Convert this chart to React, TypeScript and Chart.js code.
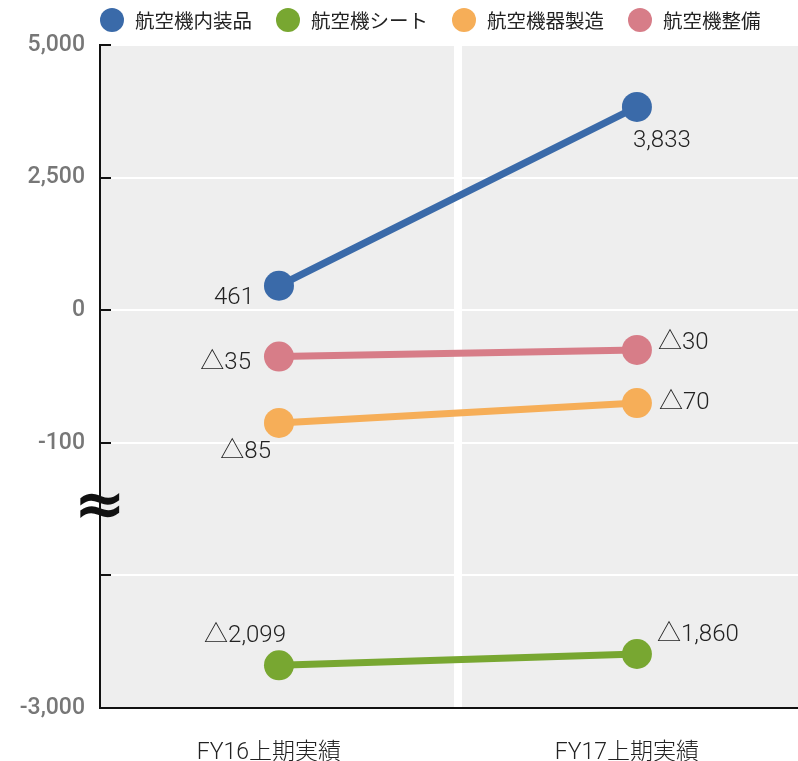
import { useEffect, useRef } from 'react';
import { Chart, registerables, LinearScale } from 'chart.js';

// Periods on the horizontal axis
const CATEGORIES = ['FY16上期実績', 'FY17上期実績'];

// Segment names, in legend order
const SERIES_NAMES = ['航空機内装品', '航空機シート', '航空機器製造', '航空機整備'];

// Segment results per period
const INTERIOR = [461, 3833];
const SEATS = [-2099, -1860];
const MANUFACTURING = [-85, -70];
const MAINTENANCE = [-35, -30];

// Breakpoints of the broken value axis, bottom to top; each pair spans one grid step
const AXIS_BREAKS = [-3000, -200, -100, 0, 2500, 5000];
const Y_TICK_LABELS = ['-3,000', '', '-100', '0', '2,500', '5,000'];

const SERIES_COLORS = ['#3a6aa9', '#78a731', '#f6ae58', '#d77d88'];

// Where each value label sits relative to its point
const LABEL_PLACEMENT = [
  [{ align: 'right', dx: -25, dy: 12 }, { align: 'left', dx: -4, dy: 34 }],
  [{ align: 'right', dx: 7, dy: -29 }, { align: 'left', dx: 20, dy: -19 }],
  [{ align: 'right', dx: -8, dy: 29 }, { align: 'left', dx: 22, dy: 0 }],
  [{ align: 'right', dx: -28, dy: 6 }, { align: 'left', dx: 21, dy: -7 }],
];

const LATIN_CJK = "Roboto, 'Noto Sans CJK JP', sans-serif";

// value -> position along the piecewise axis (0 .. AXIS_BREAKS.length - 1)
function toAxis(v: number): number {
  const b = AXIS_BREAKS;
  for (let i = 0; i < b.length - 1; i++) {
    if (v <= b[i + 1] || i === b.length - 2) {
      return i + (v - b[i]) / (b[i + 1] - b[i]);
    }
  }
  return 0;
}

function fromAxis(a: number): number {
  const n = AXIS_BREAKS.length - 1;
  const i = Math.max(0, Math.min(n - 1, Math.floor(a)));
  return AXIS_BREAKS[i] + (a - i) * (AXIS_BREAKS[i + 1] - AXIS_BREAKS[i]);
}

// Linear scale whose segments between breakpoints all get the same height
class BrokenAxisScale extends LinearScale {
  static id = 'brokenAxis';
  determineDataLimits() {
    this.min = 0;
    this.max = AXIS_BREAKS.length - 1;
  }
  buildTicks() {
    return AXIS_BREAKS.map((value) => ({ value }));
  }
  getPixelForValue(value: number) {
    return super.getPixelForValue(toAxis(value));
  }
  getValueForPixel(pixel: number) {
    return fromAxis(super.getValueForPixel(pixel));
  }
}

Chart.register(...registerables, BrokenAxisScale);

function formatValue(v: number): string {
  const s = Math.abs(v).toLocaleString('en-US');
  return v < 0 ? '△' + s : s;
}

const plotDecor = {
  id: 'plotDecor',
  beforeDraw(chart: any) {
    const { ctx, chartArea: a } = chart;
    ctx.save();
    ctx.fillStyle = '#eeeeee';
    ctx.fillRect(a.left, a.top, a.right - a.left, a.bottom - a.top);
    ctx.restore();
  },
  beforeDatasetsDraw(chart: any) {
    const { ctx, chartArea: a, scales } = chart;
    ctx.save();
    // white band between the two periods
    const sx = scales.x.getPixelForValue(0.5);
    ctx.fillStyle = '#ffffff';
    ctx.fillRect(sx - 4, a.top, 8, a.bottom - a.top - 1);
    // tick marks on the inside of the value axis
    ctx.strokeStyle = '#111';
    ctx.lineWidth = 2;
    scales.y.ticks.forEach((t: any) => {
      const y = Math.round(scales.y.getPixelForValue(t.value));
      ctx.beginPath();
      ctx.moveTo(a.left, y);
      ctx.lineTo(a.left + 11, y);
      ctx.stroke();
    });
    ctx.restore();
  },
  afterDatasetsDraw(chart: any) {
    const { ctx, chartArea: a, scales } = chart;
    ctx.save();
    // value labels
    ctx.font = `300 24px ${LATIN_CJK}`;
    ctx.fillStyle = '#222';
    ctx.textBaseline = 'middle';
    chart.data.datasets.forEach((ds: any, i: number) => {
      const meta = chart.getDatasetMeta(i);
      meta.data.forEach((pt: any, j: number) => {
        const p = LABEL_PLACEMENT[i][j];
        ctx.textAlign = p.align;
        ctx.fillText(formatValue(ds.data[j].y), pt.x + p.dx, pt.y + p.dy);
      });
    });
    // axis break mark
    const by = scales.y.getPixelForValue(fromAxis(1.5));
    ctx.font = "bold 62px 'DejaVu Sans'";
    ctx.fillStyle = '#111';
    ctx.textAlign = 'center';
    ctx.textBaseline = 'middle';
    ctx.fillText('≈', a.left, by);
    ctx.restore();
  },
  afterDraw(chart: any) {
    // legend row
    const { ctx } = chart;
    ctx.save();
    ctx.font = "19.5px 'Noto Sans CJK JP'";
    ctx.textBaseline = 'middle';
    ctx.textAlign = 'left';
    let x = 100;
    const cy = 20;
    chart.data.datasets.forEach((ds: any) => {
      ctx.fillStyle = ds.borderColor;
      ctx.beginPath();
      ctx.arc(x + 12, cy, 12, 0, Math.PI * 2);
      ctx.fill();
      ctx.fillStyle = '#222';
      ctx.fillText(ds.label, x + 35, cy + 1);
      x += 35 + ctx.measureText(ds.label).width + 24;
    });
    ctx.restore();
  },
};

export default function App() {
  const ref = useRef<HTMLCanvasElement>(null);

  useEffect(() => {
    const series = [INTERIOR, SEATS, MANUFACTURING, MAINTENANCE];
    const chart = new Chart(ref.current!, {
      type: 'line',
      data: {
        datasets: series.map((vals, i) => ({
          label: SERIES_NAMES[i],
          data: vals.map((v, j) => ({ x: j, y: v })),
          borderColor: SERIES_COLORS[i],
          backgroundColor: SERIES_COLORS[i],
          pointBackgroundColor: SERIES_COLORS[i],
          borderWidth: 7,
          pointRadius: 15,
          pointBorderWidth: 0,
          tension: 0,
        })),
      },
      options: {
        responsive: false,
        animation: false,
        devicePixelRatio: 1,
        events: [],
        layout: { autoPadding: false, padding: { top: 45, left: 0, right: 0, bottom: 0 } },
        plugins: {
          legend: { display: false },
          tooltip: { enabled: false },
        },
        scales: {
          x: {
            type: 'linear',
            min: -0.5,
            max: 1.45,
            afterBuildTicks: (s: any) => {
              s.ticks = CATEGORIES.map((_, i) => ({ value: i }));
            },
            afterFit: (s: any) => {
              s.paddingLeft = 0;
              s.paddingRight = 0;
              s.height = 53;
            },
            grid: { display: false },
            border: { display: true, color: '#111', width: 2 },
            ticks: {
              callback: (v: any) => CATEGORIES[v] ?? '',
              padding: 23,
              labelOffset: -10,
              color: '#222',
              font: { family: LATIN_CJK, size: 23, weight: 300 },
              maxRotation: 0,
              autoSkip: false,
            },
          },
          y: {
            type: 'brokenAxis',
            position: 'left',
            afterFit: (s: any) => {
              s.width = 100;
              s.paddingTop = 0;
              s.paddingBottom = 0;
            },
            grid: { color: '#ffffff', lineWidth: 2, drawTicks: false },
            border: { display: true, color: '#111', width: 2 },
            ticks: {
              callback: (_v: any, i: number) => Y_TICK_LABELS[i],
              padding: 15,
              color: '#777',
              font: { family: 'Roboto', size: 23, weight: 500 },
              autoSkip: false,
            },
          },
        } as any,
      },
      plugins: [plotDecor],
    });
    return () => chart.destroy();
  }, []);

  return (
    <div style={{ position: 'absolute', left: 0, top: 0, width: 798, height: 761 }}>
      <canvas ref={ref} width={798} height={761} style={{ display: 'block' }} />
    </div>
  );
}
